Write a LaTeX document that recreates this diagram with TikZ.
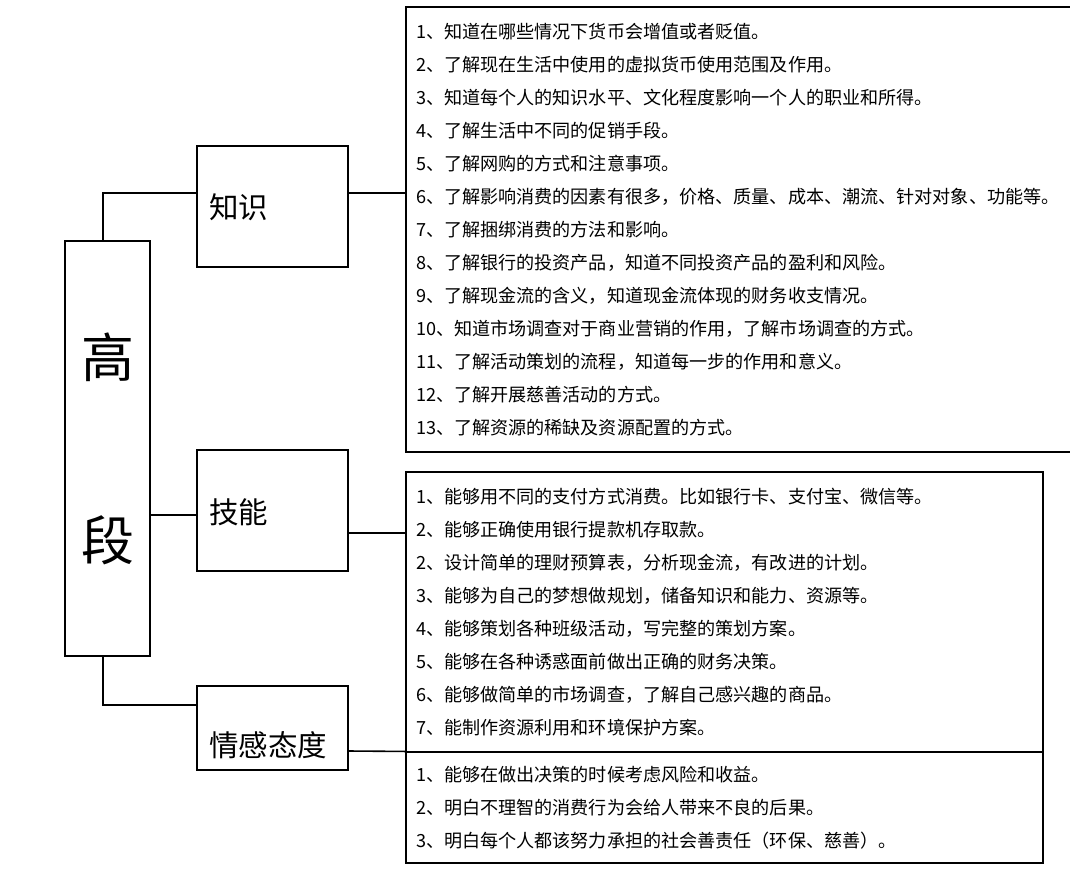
\documentclass[tikz,border=0pt]{standalone}
\usepackage{fontspec}
\setmainfont{Noto Sans CJK SC}
\begin{document}
\begin{tikzpicture}[x=1pt,y=-1pt,
  box/.style={draw, line width=1.1pt, inner sep=0pt},
  listbox/.style={box, align=left, inner xsep=10pt, inner ysep=0pt, font=\fontsize{18.1}{33}\selectfont},
  catbox/.style={box, minimum width=151pt},
  cattext/.style={font=\fontsize{29.5}{29.5}\selectfont, inner sep=0pt, anchor=west},
  mainbox/.style={draw, line width=1.6pt, minimum width=85pt, minimum height=415pt, inner sep=0pt, align=center, font=\fontsize{53}{183}\selectfont},
  link/.style={line width=1.6pt}
]
\useasboundingbox (0,0) rectangle (1070,875);

\node[mainbox] (main) at (107.5,448.5) {高\\段};

\node[catbox, minimum height=121pt] (know) at (272.5,206.5) {};
\node[cattext] (knowT) at (209,207) {知识};
\node[catbox, minimum height=121pt] (skill) at (272.5,510.5) {};
\node[cattext] (skillT) at (209,512) {技能};
\node[catbox, minimum height=84pt] (att) at (272.5,728) {};
\node[cattext] (attT) at (209,745) {情感态度};

\node[listbox, text width=645pt, minimum height=445pt] (kbox) at (738.5,229.5) {%
1、知道在哪些情况下货币会增值或者贬值。\\
2、了解现在生活中使用的虚拟货币使用范围及作用。\\
3、知道每个人的知识水平、文化程度影响一个人的职业和所得。\\
4、了解生活中不同的促销手段。\\
5、了解网购的方式和注意事项。\\
6、了解影响消费的因素有很多，价格、质量、成本、潮流、针对对象、功能等。\\
7、了解捆绑消费的方法和影响。\\
8、了解银行的投资产品，知道不同投资产品的盈利和风险。\\
9、了解现金流的含义，知道现金流体现的财务收支情况。\\
10、知道市场调查对于商业营销的作用，了解市场调查的方式。\\
11、了解活动策划的流程，知道每一步的作用和意义。\\
12、了解开展慈善活动的方式。\\
13、了解资源的稀缺及资源配置的方式。};

\node[listbox, text width=617pt, minimum height=280pt] (sbox) at (724.5,612) {%
1、能够用不同的支付方式消费。比如银行卡、支付宝、微信等。\\
2、能够正确使用银行提款机存取款。\\
2、设计简单的理财预算表，分析现金流，有改进的计划。\\
3、能够为自己的梦想做规划，储备知识和能力、资源等。\\
4、能够策划各种班级活动，写完整的策划方案。\\
5、能够在各种诱惑面前做出正确的财务决策。\\
6、能够做简单的市场调查，了解自己感兴趣的商品。\\
7、能制作资源利用和环境保护方案。};

\node[listbox, text width=617pt, minimum height=111pt] (abox) at (724.5,807.5) {%
1、能够在做出决策的时候考虑风险和收益。\\
2、明白不理智的消费行为会给人带来不良的后果。\\
3、明白每个人都该努力承担的社会善责任（环保、慈善）。};

\draw[link] ([xshift=-4.5pt]main.north) |- ([yshift=13.5pt]know.west);
\draw[link] ([yshift=13.5pt]know.east) -- ([yshift=13.5pt]know.east -| kbox.west);
\draw[link] ([yshift=-4.5pt]skill.west -| main.east) -- ([yshift=-4.5pt]skill.west);
\draw[link] ([yshift=-22.5pt]skill.east) -- ([yshift=-22.5pt]skill.east -| sbox.west);
\draw[link] ([xshift=-4.5pt]main.south) |- ([yshift=23pt]att.west);
\draw[link] ([yshift=-23pt]att.east) -- (abox.north west);
\end{tikzpicture}
\end{document}
